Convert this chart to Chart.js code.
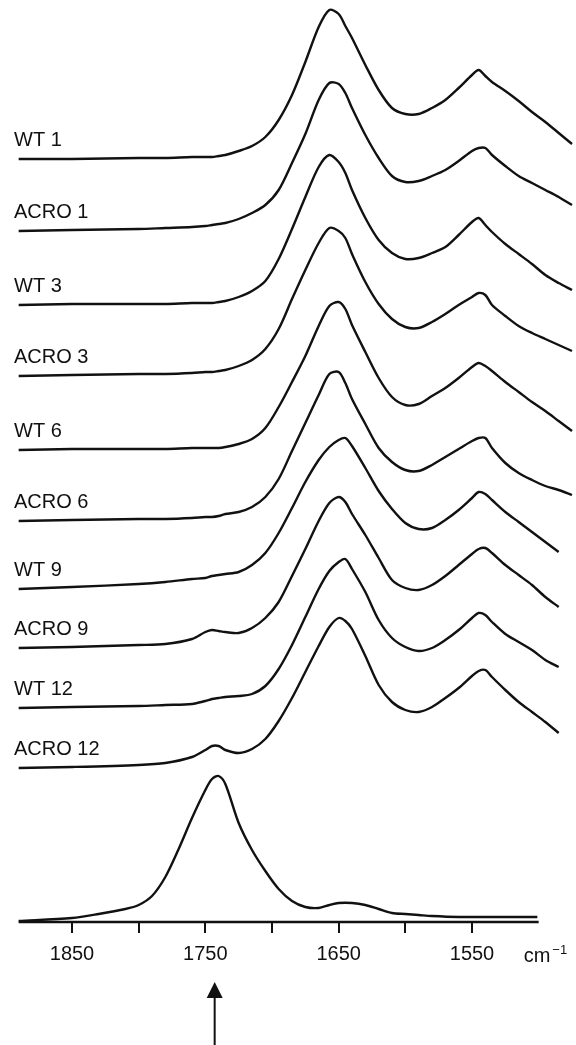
<!DOCTYPE html>
<html>
<head>
<meta charset="utf-8">
<title>FTIR spectra</title>
<script src="https://cdn.jsdelivr.net/npm/chart.js@4.4.1/dist/chart.umd.min.js"></script>
<style>
    html, body { margin: 0; padding: 0; background: #fff; }
    #wrap { width: 576px; height: 1045px; }
</style>
</head>
<body>
<div id="wrap"><canvas id="chart" width="576" height="1045"></canvas></div>
<script>
// wavenumber grid (cm-1) shared by the ten sample spectra
const wavenumbers = [1890, 1850, 1800, 1780, 1760, 1750, 1745, 1740, 1735, 1725,
    1715, 1705, 1695, 1685, 1675, 1665, 1657, 1650, 1645, 1640,
    1630, 1620, 1610, 1600, 1590, 1580, 1570, 1560, 1550, 1545,
    1540, 1535, 1525, 1515, 1505, 1495, 1485, 1475];

// absorbance above each spectrum's own baseline (arbitrary units)
const wt1 = [0, 0, 1, 1, 2, 2, 2, 3, 4, 8, 13, 22, 39, 64, 97, 132, 149, 145, 133, 121,
    94, 69, 51, 45, 45, 51, 59, 71, 84, 89, 83, 77, 68, 58, 47, 37, 26, 15];
const acro1 = [0, 1, 2, 3, 4, 5, 6, 7, 8, 12, 18, 26, 41, 68, 97, 131, 148, 147, 138, 123,
    96, 73, 55, 49, 50, 55, 61, 70, 80, 83, 83, 76, 65, 55, 48, 41, 34, 26];
const wt3 = [0, 1, 1, 1, 2, 2, 2, 3, 4, 8, 14, 24, 46, 76, 108, 138, 150, 143, 132, 115,
    87, 65, 52, 46, 47, 52, 58, 70, 83, 87, 80, 73, 61, 51, 41, 30, 22, 15];
const acro3 = [0, 1, 2, 2, 3, 4, 4, 5, 6, 10, 16, 27, 47, 77, 106, 133, 148, 145, 138, 122,
    94, 72, 57, 49, 48, 54, 62, 71, 79, 83, 81, 71, 60, 50, 43, 37, 31, 25];
const wt6 = [0, 1, 1, 1, 2, 2, 2, 2, 3, 6, 11, 22, 43, 68, 94, 124, 144, 148, 141, 125,
    98, 72, 53, 45, 46, 54, 62, 72, 83, 87, 84, 79, 68, 58, 48, 39, 29, 19];
const acro6 = [0, 1, 2, 2, 3, 4, 4, 5, 7, 9, 14, 24, 42, 70, 98, 126, 147, 149, 138, 122,
    97, 73, 59, 51, 50, 56, 64, 72, 80, 83, 83, 73, 58, 48, 41, 35, 31, 26];
const wt9 = [0, 2, 5, 7, 10, 11, 13, 14, 15, 17, 24, 36, 56, 81, 107, 129, 142, 149, 151, 143,
    121, 98, 80, 66, 60, 61, 69, 79, 91, 97, 95, 89, 77, 67, 57, 47, 37, null];
const acro9 = [0, 1, 3, 4, 9, 16, 18, 17, 16, 15, 20, 30, 46, 72, 99, 127, 145, 151, 146, 134,
    113, 90, 68, 60, 58, 63, 72, 83, 94, 99, 100, 95, 83, 73, 63, 51, 41, null];
const wt12 = [0, 1, 2, 3, 4, 7, 9, 10, 11, 12, 14, 22, 39, 63, 91, 119, 137, 146, 149, 139,
    116, 88, 70, 61, 57, 60, 68, 78, 90, 95, 93, 86, 74, 66, 58, 48, 41, null];
const acro12 = [0, 1, 3, 5, 11, 18, 22, 22, 18, 15, 19, 29, 47, 70, 96, 122, 141, 150, 147, 139,
    112, 83, 66, 58, 56, 61, 70, 80, 92, 97, 98, 91, 78, 66, 56, 46, 35, null];

const sampleLabels = ['WT 1', 'ACRO 1', 'WT 3', 'ACRO 3', 'WT 6', 'ACRO 6', 'WT 9', 'ACRO 9', 'WT 12', 'ACRO 12'];
const sampleSpectra = [wt1, acro1, wt3, acro3, wt6, acro6, wt9, acro9, wt12, acro12];
// vertical stacking offset of each trace
const baselineOffsets = [763, 691, 617, 546, 472, 401, 333, 274, 214, 154];

// reference spectrum at the bottom (ester band)
const refWavenumbers = [1890, 1850, 1830, 1810, 1800, 1790, 1780, 1770, 1760, 1750,
    1745, 1740, 1735, 1725, 1715, 1705, 1695, 1685, 1675, 1665,
    1657, 1650, 1640, 1630, 1620, 1610, 1600, 1590, 1580, 1560,
    1540, 1520, 1501];
const refSpectrum = [1, 4, 8, 13, 17, 26, 45, 73, 104, 132,
    143, 146, 138, 99, 72, 51, 33, 21, 15, 14,
    17, 19, 19, 17, 13, 9, 8, 7, 6, 5,
    5, 5, 5];

const tickValues = [1850, 1800, 1750, 1700, 1650, 1600, 1550];
const tickLabels = [1850, 1750, 1650, 1550];
const axisRange = [1890, 1500];
const arrowAt = 1743;

const fontFamily = '"Liberation Sans", Arial, Helvetica, sans-serif';
const ink = '#111';

const toPoints = (xs, ys, offset) => xs
    .map((x, i) => (ys[i] == null ? null : { x, y: ys[i] + offset }))
    .filter((p) => p !== null);

const lineDataset = (label, data, width = 2.4) => ({
    label,
    data,
    borderColor: ink,
    borderWidth: width,
    pointRadius: 0,
    fill: false,
    tension: 0.3,
    clip: false,
});

const datasets = sampleSpectra.map((values, i) =>
    lineDataset(sampleLabels[i], toPoints(wavenumbers, values, baselineOffsets[i])));
datasets.push(lineDataset('reference', toPoints(refWavenumbers, refSpectrum, 0)));
datasets.push({
    ...lineDataset('axis', axisRange.map((x) => ({ x, y: 0 })), 2.4),
    tension: 0,
});

const labelsPlugin = {
    id: 'spectrumLabels',
    afterDraw: (chart) => {
        const { ctx, chartArea, scales: { x, y } } = chart;
        ctx.save();
        ctx.fillStyle = ink;
        ctx.strokeStyle = ink;

        ctx.font = `20px ${fontFamily}`;
        ctx.textBaseline = 'middle';
        sampleLabels.forEach((label, i) => {
            ctx.fillText(label, 14, y.getPixelForValue(baselineOffsets[i]) - 19);
        });

        // unit label after the last tick
        const unitX = x.getPixelForValue(axisRange[1]) - 15;
        const unitY = chartArea.bottom + 40;
        ctx.textBaseline = 'alphabetic';
        ctx.fillText('cm', unitX, unitY);
        const cmWidth = ctx.measureText('cm').width;
        ctx.font = `13px ${fontFamily}`;
        ctx.fillText('\u22121', unitX + cmWidth + 2, unitY - 8);

        // arrow pointing at the ester band
        const ax = x.getPixelForValue(arrowAt);
        const tipY = chartArea.bottom + 60;
        ctx.beginPath();
        ctx.moveTo(ax, tipY);
        ctx.lineTo(ax - 8, tipY + 16);
        ctx.lineTo(ax + 8, tipY + 16);
        ctx.closePath();
        ctx.fill();
        ctx.lineWidth = 2;
        ctx.beginPath();
        ctx.moveTo(ax, tipY + 14);
        ctx.lineTo(ax, chart.height);
        ctx.stroke();
        ctx.restore();
    },
};

new Chart(document.getElementById('chart'), {
    type: 'line',
    data: { datasets },
    options: {
        responsive: false,
        animation: false,
        events: [],
        devicePixelRatio: 1,
        layout: { padding: 0 },
        plugins: {
            legend: { display: false },
            tooltip: { enabled: false },
        },
        scales: {
            x: {
                type: 'linear',
                reverse: true,
                min: 1472,
                max: 1904,
                border: { display: false },
                grid: {
                    drawOnChartArea: false,
                    drawTicks: true,
                    tickLength: 11,
                    color: ink,
                    lineWidth: 2,
                },
                ticks: {
                    color: ink,
                    font: { family: fontFamily, size: 20 },
                    padding: 9,
                    maxRotation: 0,
                    autoSkip: false,
                    callback: (value) => (tickLabels.includes(value) ? String(value) : ''),
                },
                afterBuildTicks: (scale) => {
                    scale.ticks = tickValues.map((value) => ({ value }));
                },
                afterFit: (scale) => {
                    scale.height = 123;
                },
            },
            y: {
                display: false,
                min: 0,
                max: 922,
            },
        },
    },
    plugins: [labelsPlugin],
});
</script>
</body>
</html>
